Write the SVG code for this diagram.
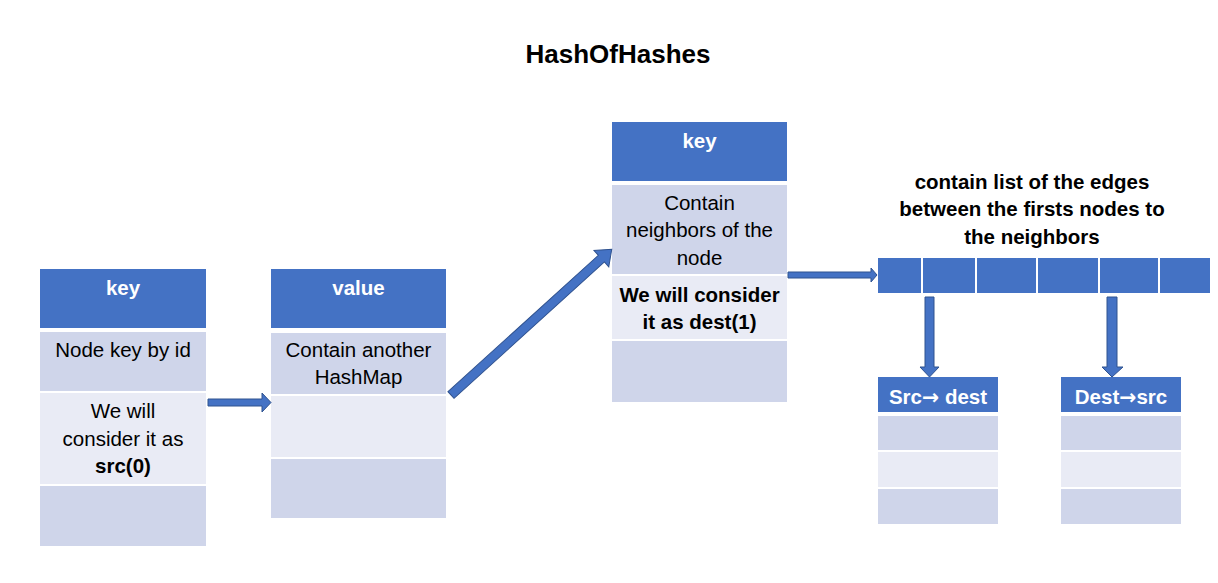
<svg xmlns="http://www.w3.org/2000/svg" width="1218" height="583" viewBox="0 0 1218 583">
<style>
.hd{fill:#4472C4}
.r1{fill:#CFD5EA}
.r2{fill:#E9EBF5}
.arr{fill:#4472C4;stroke:#2F528F;stroke-width:1}
.t{font-family:"Liberation Sans",Arial,sans-serif;font-size:20.5px;fill:#000;text-anchor:middle}
.b{font-weight:bold}
.w{fill:#fff;font-weight:bold}
.ar{font-family:"DejaVu Sans",sans-serif;font-weight:bold}
</style>
<rect width="1218" height="583" fill="#fff"/>
<text id="title" class="t b" x="618" y="63" style="font-size:26px">HashOfHashes</text>

<g id="table-key">
<rect class="hd" x="40" y="269" width="166" height="59"/>
<rect class="r1" x="40" y="332" width="166" height="59"/>
<rect class="r2" x="40" y="393" width="166" height="91"/>
<rect class="r1" x="40" y="486" width="166" height="60"/>
<text class="t w" x="123" y="295">key</text>
<text class="t" x="123" y="357">Node key by id</text>
<text class="t" x="123" y="418">We will</text>
<text class="t" x="123" y="446">consider it as</text>
<text class="t b" x="123" y="473">src(0)</text>
</g>

<g id="table-value">
<rect class="hd" x="271" y="269" width="175" height="59"/>
<rect class="r1" x="271" y="333" width="175" height="61"/>
<rect class="r2" x="271" y="396" width="175" height="61"/>
<rect class="r1" x="271" y="459" width="175" height="59"/>
<text class="t w" x="358.5" y="295">value</text>
<text class="t" x="358.5" y="357">Contain another</text>
<text class="t" x="358.5" y="384">HashMap</text>
</g>

<g id="table-inner-key">
<rect class="hd" x="612" y="122" width="175" height="59"/>
<rect class="r1" x="612" y="185" width="175" height="89"/>
<rect class="r2" x="612" y="276" width="175" height="63"/>
<rect class="r1" x="612" y="341" width="175" height="61"/>
<text class="t w" x="699.5" y="148">key</text>
<text class="t" x="699.5" y="210">Contain</text>
<text class="t" x="699.5" y="237">neighbors of the</text>
<text class="t" x="699.5" y="265">node</text>
<text class="t b" x="699.5" y="302">We will consider</text>
<text class="t b" x="699.5" y="329">it as dest(1)</text>
</g>

<g id="edges-label">
<text class="t b" x="1032" y="189">contain list of the edges</text>
<text class="t b" x="1032" y="216">between the firsts nodes to</text>
<text class="t b" x="1032" y="244">the neighbors</text>
</g>

<g id="edge-array">
<rect class="hd" x="878" y="258" width="332" height="35"/>
<g stroke="#fff" stroke-width="2">
<line x1="922" y1="258" x2="922" y2="293"/>
<line x1="976" y1="258" x2="976" y2="293"/>
<line x1="1037" y1="258" x2="1037" y2="293"/>
<line x1="1099" y1="258" x2="1099" y2="293"/>
<line x1="1159" y1="258" x2="1159" y2="293"/>
</g>
</g>

<g id="table-src-dest">
<rect class="hd" x="878" y="377" width="120" height="35"/>
<rect class="r1" x="878" y="416" width="120" height="34"/>
<rect class="r2" x="878" y="452" width="120" height="35"/>
<rect class="r1" x="878" y="489" width="120" height="35"/>
<text class="t w" x="938" y="404">Src<tspan class="ar">→</tspan> dest</text>
</g>

<g id="table-dest-src">
<rect class="hd" x="1061" y="377" width="120" height="35"/>
<rect class="r1" x="1061" y="416" width="120" height="34"/>
<rect class="r2" x="1061" y="452" width="120" height="35"/>
<rect class="r1" x="1061" y="489" width="120" height="35"/>
<text class="t w" x="1121" y="404">Dest<tspan class="ar">→</tspan>src</text>
</g>

<g id="connectors">
<polygon class="arr" points="208,399 262,399 262,393 271,402.5 262,412 262,406 208,406"/>
<g transform="translate(451,395) rotate(-42.2)">
<polygon class="arr" points="0,-4.5 203,-4.5 203,-11 217,0 203,11 203,4.5 0,4.5"/>
</g>
<polygon class="arr" points="788,272 871,272 871,268 877,275 871,282 871,278 788,278"/>
<polygon class="arr" points="925,297 934,297 934,367 939,367 929.5,377 920,367 925,367"/>
<polygon class="arr" points="1107,297 1117,297 1117,367 1123,367 1112,377 1102,367 1107,367"/>
</g>
</svg>
